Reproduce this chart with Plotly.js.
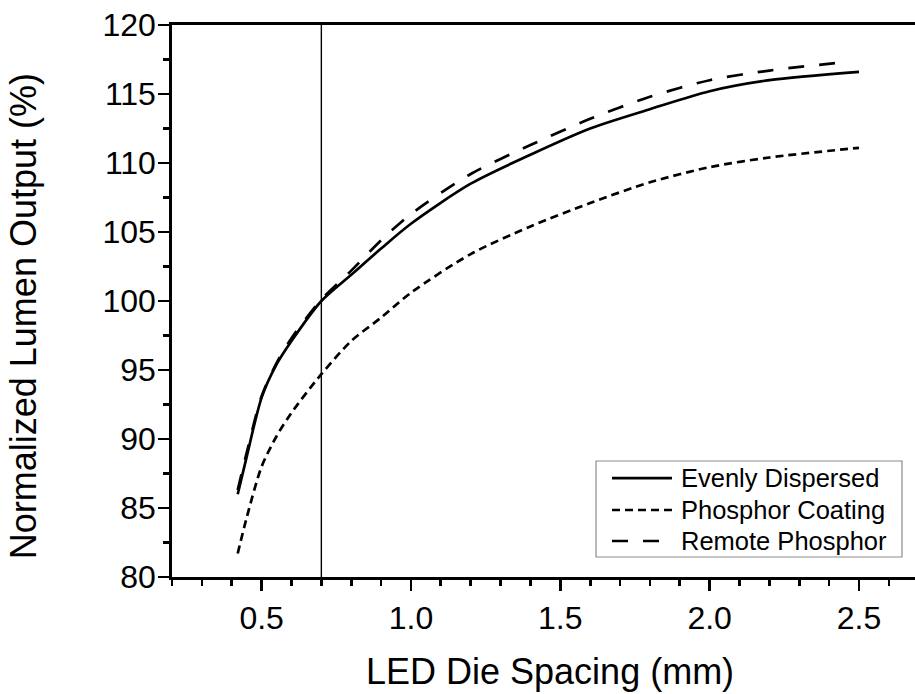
<!DOCTYPE html>
<html>
<head>
<meta charset="utf-8">
<script src="https://cdn.plot.ly/plotly-3.0.1.min.js"></script>
<style>
  html, body { margin: 0; padding: 0; background: #fff; overflow: hidden; }
  #chart { width: 915px; height: 694px; }
</style>
</head>
<body>
<div id="chart"></div>
<script>
// LED die spacing (mm) at which each configuration was evaluated
const spacingEven = [0.42, 0.45, 0.5, 0.55, 0.6, 0.7, 0.8, 0.9, 1.0, 1.2, 1.4, 1.6, 1.8, 2.0, 2.2, 2.5];
const spacingCoat = [0.42, 0.45, 0.5, 0.55, 0.6, 0.7, 0.8, 0.9, 1.0, 1.2, 1.4, 1.6, 1.8, 2.0, 2.2, 2.5];
const spacingRemote = [0.42, 0.45, 0.5, 0.55, 0.6, 0.7, 0.8, 0.9, 1.0, 1.2, 1.4, 1.6, 1.8, 2.0, 2.2, 2.45];

// Normalized lumen output (%)
const lumenEven = [86.0, 88.7, 93.0, 95.4, 97.1, 100.0, 101.9, 103.8, 105.6, 108.5, 110.6, 112.5, 113.9, 115.2, 116.0, 116.6];
const lumenCoat = [81.7, 84.3, 88.0, 90.2, 91.9, 94.7, 97.1, 98.8, 100.6, 103.4, 105.4, 107.1, 108.6, 109.7, 110.4, 111.1];
const lumenRemote = [86.3, 89.0, 93.1, 95.5, 97.3, 100.1, 102.2, 104.4, 106.3, 109.2, 111.3, 113.2, 114.8, 116.0, 116.7, 117.3];

const seriesNames = ["Evenly Dispersed", "Phosphor Coating", "Remote Phosphor"];
const referenceSpacing = 0.7;

const xTicks = [0.5, 1.0, 1.5, 2.0, 2.5];
const xTickText = ["0.5", "1.0", "1.5", "2.0", "2.5"];
const yTicks = [80, 85, 90, 95, 100, 105, 110, 115, 120];

const FONT = "Liberation Sans, Arial, Helvetica, sans-serif";
const LINE_W = 2.7;
const dashes = ["solid", "8px,5px", "16px,15px"];

const xs = [spacingEven, spacingCoat, spacingRemote];
const ys = [lumenEven, lumenCoat, lumenRemote];

const traces = seriesNames.map((name, i) => ({
  x: xs[i], y: ys[i], name: name, mode: "lines", showlegend: false,
  line: { color: "#000", width: LINE_W, dash: dashes[i], shape: "spline", smoothing: 0.8 }
}));

// Legend box drawn in paper coordinates, lower right of the plot
const legendBox = { x0: 0.5707, x1: 0.9825, y0: 0.0362, y1: 0.2101 };
const legendRows = [0.1793, 0.1214, 0.0652];
const legendSample = { x0: 0.5922, x1: 0.6729 };
const legendTextX = 0.6830;

const shapes = [{
  type: "line", xref: "x", yref: "paper",
  x0: referenceSpacing, x1: referenceSpacing, y0: 0, y1: 1,
  line: { color: "#000", width: 1.4 }
}, {
  type: "rect", xref: "paper", yref: "paper",
  x0: legendBox.x0, x1: legendBox.x1, y0: legendBox.y0, y1: legendBox.y1,
  line: { color: "#8c8c8c", width: 1.2 }, fillcolor: "#fff"
}];
seriesNames.forEach((name, i) => {
  shapes.push({
    type: "line", xref: "paper", yref: "paper",
    x0: legendSample.x0, x1: legendSample.x1, y0: legendRows[i], y1: legendRows[i],
    line: { color: "#000", width: LINE_W, dash: dashes[i] }
  });
});

const annotations = [{
  text: "Normalized Lumen Output (%)", textangle: -90,
  xref: "paper", yref: "paper", x: -0.1995, y: 0.472,
  xanchor: "center", yanchor: "middle", showarrow: false,
  font: { family: FONT, size: 36, color: "#000" }
}, {
  text: "LED Die Spacing (mm)",
  xref: "paper", yref: "paper", x: 0.5087, y: -0.1703,
  xanchor: "center", yanchor: "middle", showarrow: false,
  font: { family: FONT, size: 36, color: "#000" }
}];
seriesNames.forEach((name, i) => {
  annotations.push({
    text: name, xref: "paper", yref: "paper", x: legendTextX, y: legendRows[i],
    xanchor: "left", yanchor: "middle", showarrow: false,
    font: { family: FONT, size: 25.5, color: "#000" }
  });
});

const axisCommon = {
  showgrid: false, zeroline: false,
  showline: true, linecolor: "#000", linewidth: LINE_W,
  ticks: "outside", ticklen: 11, tickwidth: LINE_W, tickcolor: "#000",
  tickfont: { family: FONT, size: 32, color: "#000" }
};

const layout = {
  width: 915, height: 694,
  margin: { l: 172, r: 0, t: 25, b: 117, pad: 0 },
  paper_bgcolor: "#fff", plot_bgcolor: "#fff",
  showlegend: false,
  xaxis: Object.assign({}, axisCommon, {
    range: [0.2, 2.6875], mirror: true,
    tickvals: xTicks, ticktext: xTickText,
    minor: { dtick: 0.1, tick0: 0, ticks: "outside", ticklen: 6, tickwidth: LINE_W, tickcolor: "#000" }
  }),
  yaxis: Object.assign({}, axisCommon, {
    range: [80, 120],
    tickvals: yTicks,
    ticklabelstandoff: -4,
    minor: { dtick: 2.5, tick0: 0, ticks: "outside", ticklen: 6, tickwidth: LINE_W, tickcolor: "#000" }
  }),
  annotations: annotations,
  shapes: shapes
};

Plotly.newPlot("chart", traces, layout, { staticPlot: true, displayModeBar: false });
</script>
</body>
</html>
